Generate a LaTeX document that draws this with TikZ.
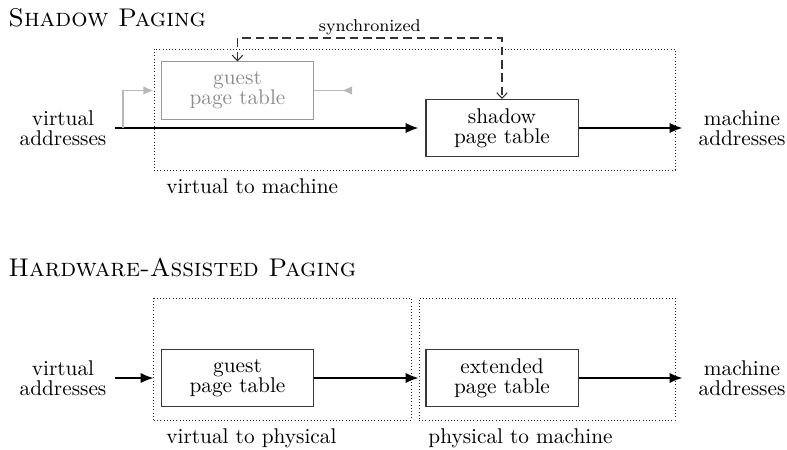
\documentclass[tikz,border=0pt]{standalone}
\usetikzlibrary{arrows.meta}
\begin{document}
\begin{tikzpicture}[x=0.4695pt, y=-0.4695pt,
  every node/.style={font=\fontsize{10}{9.4}\selectfont},
  tablebox/.style={draw=black!78, line width=0.5pt, align=center, minimum width=71.4pt, minimum height=26.8pt, inner sep=2pt},
  ghostbox/.style={tablebox, draw=black!40, text=black!45},
  frame/.style={draw=black!85, line width=0.45pt, dash pattern=on 0.45pt off 1.05pt, inner sep=0pt},
  addr/.style={align=center, inner ysep=2pt},
  flow/.style={line width=0.75pt, -{Latex[length=6pt, width=4.8pt]}},
  ghostflow/.style={line width=0.6pt, draw=black!28, -{Latex[length=4.8pt, width=4pt]}},
  ghostback/.style={line width=0.6pt, draw=black!28, -{Latex[length=4.8pt, width=4pt, reversed]}},
  syncflow/.style={line width=0.5pt, draw=black!80, dash pattern=on 4pt off 2.3pt,
    {Straight Barb[length=2.6pt, width=5pt]}-{Straight Barb[length=2.6pt, width=5pt]}},
  heading/.style={anchor=base west, font=\large\scshape, inner sep=0pt},
  caption/.style={anchor=base west, inner sep=0pt}]
\useasboundingbox (0,0) rectangle (787,449);

% ---------- shadow paging ----------
\node[heading] (h1) at (8,26) {Shadow Paging};
\node[frame, minimum width=244.6pt, minimum height=56.8pt] (f1) at (414.5,109.5) {};
\node[caption] (c1) at (166,193) {virtual to machine};

\node[addr, inner xsep=4pt] (va1) at (63,128) {virtual\\addresses};
\node[addr, inner xsep=7.4pt] (ma1) at (742,128) {machine\\addresses};
\node[ghostbox] (gpt1) at (237.5,90.5) {guest\\page table};
\node[tablebox] (spt) at (502,128) {shadow\\page table};

\draw[flow, shorten >=3.3pt] (va1.east) -- (va1.east -| spt.west);
\draw[flow] (spt.east) -- (spt.east -| ma1.west);

% guest table, bypassed by the hardware
\coordinate (branch) at (123,128);
\coordinate (gend) at (352,90.5);
\draw[ghostflow] (branch) |- (gpt1.west -| f1.west);
\draw[ghostback] (gpt1.east) -- (gend);

% synchronisation between guest and shadow tables
\coordinate (syncline) at (0,38);
\draw[syncflow] (gpt1.north) -- (gpt1.north |- syncline) -- (spt.north |- syncline)
  node[midway, above, inner sep=1.2pt, font=\footnotesize] (sync) {synchronized}
  -- (spt.north);

% ---------- hardware-assisted paging ----------
\node[heading] (h2) at (8,276) {Hardware-Assisted Paging};
\node[frame, minimum width=120.7pt, minimum height=57.3pt] (f2) at (282.5,359) {};
\node[frame, minimum width=120.2pt, minimum height=57.3pt] (f3) at (547,359) {};
\node[caption] (c2) at (166,443) {virtual to physical};
\node[caption] (c3) at (428,443) {physical to machine};

\node[addr, inner xsep=4pt] (va2) at (63,378) {virtual\\addresses};
\node[addr, inner xsep=7.4pt] (ma2) at (742,378) {machine\\addresses};
\node[tablebox] (gpt2) at (237.5,378) {guest\\page table};
\node[tablebox] (ept) at (502,378) {extended\\page table};

\draw[flow] (va2.east) -- (va2.east -| f2.west);
\draw[flow] (gpt2.east) -- (gpt2.east -| f3.west);
\draw[flow] (ept.east) -- (ept.east -| ma2.west);
\end{tikzpicture}
\end{document}
